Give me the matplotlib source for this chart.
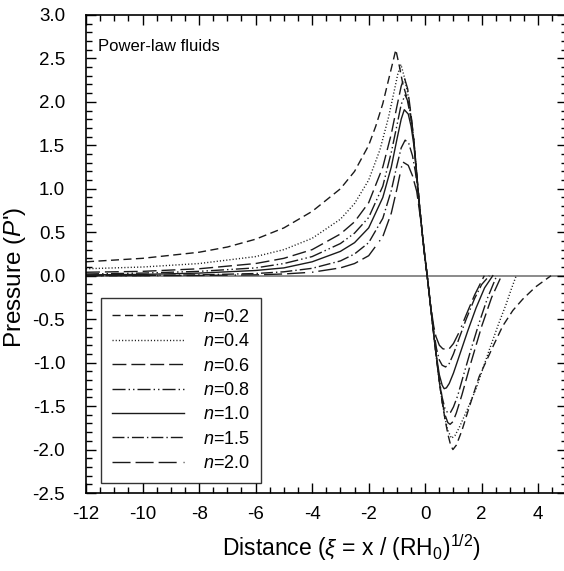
"""Pressure profiles P' for power-law fluids at several flow indices n"""

import matplotlib
matplotlib.use('Agg')
import matplotlib.pyplot as plt
from matplotlib.ticker import MultipleLocator

# curve data, one pair of lists per flow index
x_n02 = [-12, -10, -8, -7, -6, -5, -4, -3, -2.5, -2, -1.75, -1.5, -1.3, -1.15, -1.04, -0.92, -0.8, -0.65,
         -0.5, -0.4, -0.3, -0.2, -0.1, 0.0, 0.07, 0.2, 0.3, 0.4, 0.5, 0.6, 0.7, 0.8, 0.9, 0.98, 1.1, 1.3,
         1.56, 1.91, 2.39, 2.74, 3.1, 3.45, 3.9, 4.45]
y_n02 = [0.16, 0.20, 0.27, 0.33, 0.42, 0.55, 0.74, 1.0, 1.2, 1.5, 1.72, 1.98, 2.25, 2.45, 2.6, 2.42, 2.22, 2.05,
         1.8, 1.55, 1.17, 0.8, 0.47, 0.18, 0.0, -0.38, -0.67, -0.95, -1.22, -1.45, -1.65, -1.82, -1.95, -2.0,
         -1.95, -1.78, -1.51, -1.16, -0.82, -0.58, -0.4, -0.27, -0.13, 0.0]

x_n04 = [-12, -10, -8, -6, -5, -4, -3, -2.5, -2, -1.6, -1.3, -1.1, -0.97, -0.86, -0.75, -0.62, -0.5, -0.4,
         -0.3, -0.2, -0.1, 0.0, 0.07, 0.2, 0.3, 0.4, 0.5, 0.6, 0.7, 0.8, 0.93, 1.05, 1.2, 1.5, 1.8, 2.27,
         2.6, 2.86, 3.05, 3.22]
y_n04 = [0.08, 0.10, 0.14, 0.22, 0.30, 0.43, 0.65, 0.83, 1.1, 1.45, 1.82, 2.12, 2.32, 2.43, 2.3, 2.1, 1.82, 1.55,
         1.17, 0.8, 0.47, 0.18, 0.0, -0.38, -0.67, -0.95, -1.22, -1.45, -1.64, -1.78, -1.87, -1.84, -1.75,
         -1.53, -1.3, -0.85, -0.55, -0.33, -0.15, 0.0]

x_n06 = [-12, -10, -8, -6, -5, -4, -3, -2.5, -2, -1.5, -1.2, -1.0, -0.85, -0.74, -0.62, -0.5, -0.4, -0.3,
         -0.2, -0.1, 0.0, 0.07, 0.2, 0.3, 0.4, 0.5, 0.6, 0.7, 0.8, 0.88, 0.98, 1.1, 1.3, 1.6, 2.0, 2.35, 2.7]
y_n06 = [0.04, 0.05, 0.08, 0.14, 0.2, 0.3, 0.48, 0.62, 0.84, 1.25, 1.63, 1.95, 2.18, 2.28, 2.15, 1.85, 1.55, 1.17,
         0.8, 0.47, 0.18, 0.0, -0.38, -0.67, -0.95, -1.22, -1.45, -1.6, -1.69, -1.71, -1.68, -1.58, -1.37,
         -1.02, -0.58, -0.25, 0.0]

x_n08 = [-12, -10, -8, -6, -5, -4, -3, -2.5, -2, -1.5, -1.2, -1.0, -0.85, -0.71, -0.58, -0.48, -0.4, -0.3,
         -0.2, -0.1, 0.0, 0.07, 0.2, 0.3, 0.4, 0.5, 0.6, 0.7, 0.8, 0.9, 1.0, 1.15, 1.35, 1.6, 1.9, 2.2, 2.53]
y_n08 = [0.02, 0.03, 0.05, 0.09, 0.14, 0.22, 0.37, 0.49, 0.67, 1.03, 1.42, 1.73, 1.97, 2.08, 1.98, 1.78, 1.55, 1.17,
         0.8, 0.47, 0.18, 0.0, -0.38, -0.67, -0.95, -1.2, -1.4, -1.53, -1.58, -1.57, -1.51, -1.38, -1.15,
         -0.87, -0.55, -0.26, 0.0]

x_n10 = [-12, -10, -8, -6, -5, -4, -3, -2.5, -2, -1.5, -1.2, -1.0, -0.85, -0.74, -0.6, -0.5, -0.4, -0.3,
         -0.2, -0.1, 0.0, 0.07, 0.2, 0.3, 0.4, 0.5, 0.6, 0.67, 0.75, 0.85, 1.0, 1.25, 1.5, 1.8, 2.1, 2.39]
y_n10 = [0.01, 0.015, 0.03, 0.06, 0.09, 0.16, 0.28, 0.38, 0.55, 0.9, 1.25, 1.57, 1.8, 1.91, 1.86, 1.72, 1.5, 1.15,
         0.8, 0.47, 0.18, 0.0, -0.38, -0.67, -0.93, -1.14, -1.26, -1.3, -1.29, -1.24, -1.12, -0.88, -0.64,
         -0.37, -0.14, 0.0]

x_n15 = [-12, -10, -8, -6, -5, -4, -3, -2.5, -2, -1.5, -1.2, -1.0, -0.85, -0.71, -0.58, -0.45, -0.35, -0.25,
         -0.15, -0.05, 0.07, 0.2, 0.3, 0.4, 0.5, 0.6, 0.72, 0.85, 1.0, 1.2, 1.45, 1.75, 2.0, 2.27]
y_n15 = [0.0, 0.003, 0.01, 0.025, 0.045, 0.085, 0.17, 0.25, 0.38, 0.66, 0.98, 1.27, 1.47, 1.56, 1.52, 1.38, 1.2, 0.95,
         0.64, 0.32, 0.0, -0.37, -0.63, -0.84, -0.97, -1.03, -1.05, -1.01, -0.9, -0.72, -0.5, -0.26, -0.1, 0.0]

x_n20 = [-12, -10, -8, -6, -5, -4, -3, -2.5, -2, -1.5, -1.2, -1.0, -0.8, -0.6, -0.45, -0.3, -0.15, 0.0, 0.07,
         0.2, 0.3, 0.38, 0.5, 0.62, 0.75, 0.85, 1.0, 1.2, 1.45, 1.75, 2.09]
y_n20 = [0.0, 0.0, 0.003, 0.01, 0.02, 0.04, 0.09, 0.14, 0.23, 0.45, 0.72, 1.0, 1.31, 1.27, 1.15, 0.97, 0.62, 0.2, 0.0,
         -0.36, -0.58, -0.7, -0.8, -0.84, -0.85, -0.84, -0.78, -0.65, -0.45, -0.22, 0.0]

labels = ['$n$=0.2', '$n$=0.4', '$n$=0.6', '$n$=0.8', '$n$=1.0', '$n$=1.5', '$n$=2.0']

# dash patterns (in units of line width) mimicking the original line styles
dash_styles = [
    (5.8, 3.2),
    (0.8, 1.5),
    (10, 3.6),
    (9.4, 2.2, 1, 2.2, 1, 2.2),
    None,
    (8.6, 2.2, 1, 2.2),
    (13, 3.6, 13, 3.6, 13, 5, 1, 3.6),
]


def main():
    plt.rcParams['font.family'] = ['Liberation Sans', 'DejaVu Sans']
    plt.rcParams['mathtext.fontset'] = 'custom'
    plt.rcParams['mathtext.rm'] = 'Liberation Sans'
    plt.rcParams['mathtext.it'] = 'Liberation Sans:italic'
    plt.rcParams['axes.unicode_minus'] = False

    fig = plt.figure(figsize=(5.64, 5.71), dpi=100)
    ax = fig.add_axes([0.1525, 0.1366, 0.852, 0.8372])

    # zero reference line
    ax.axhline(0, color='#777777', lw=1.2, zorder=1)

    curves = [(x_n02, y_n02), (x_n04, y_n04), (x_n06, y_n06), (x_n08, y_n08),
              (x_n10, y_n10), (x_n15, y_n15), (x_n20, y_n20)]
    for (xs, ys), lab, dashes in zip(curves, labels, dash_styles):
        line, = ax.plot(xs, ys, color='#1a1a1a', lw=1.0, label=lab, zorder=2)
        if dashes is not None:
            line.set_dashes(dashes)

    ax.set_xlim(-12, 5)
    ax.set_ylim(-2.5, 3.0)
    ax.xaxis.set_major_locator(MultipleLocator(2))
    ax.xaxis.set_minor_locator(MultipleLocator(0.5))
    ax.yaxis.set_major_locator(MultipleLocator(0.5))
    ax.yaxis.set_minor_locator(MultipleLocator(0.1))
    ax.yaxis.set_major_formatter('{x:.1f}')
    ax.tick_params(which='both', direction='in', top=True, right=True, labelsize=13.5, width=1.0)
    ax.tick_params(which='major', length=7)
    ax.tick_params(which='minor', length=4)
    ax.tick_params(axis='x', which='major', pad=9)
    ax.tick_params(axis='y', which='major', pad=15)
    for spine in ax.spines.values():
        spine.set_linewidth(1.2)

    ax.set_xlabel(r'Distance ($\xi$ = x / (RH$_0$)$^{1/2}$)', fontsize=16.5)
    ax.xaxis.set_label_coords(0.553, -0.082)
    ax.set_ylabel("Pressure ($P$')", fontsize=17.5)
    ax.yaxis.set_label_coords(-0.12, 0.45)

    ax.text(0.024, 0.935, 'Power-law fluids', transform=ax.transAxes, fontsize=12, va='center', ha='left')

    leg = ax.legend(loc='lower left', bbox_to_anchor=(0.031, 0.021), borderaxespad=0, fontsize=13,
                    handlelength=4.0, handletextpad=1.05, labelspacing=0.41, frameon=True, fancybox=False,
                    borderpad=0.6)
    leg.get_frame().set_edgecolor('black')
    leg.get_frame().set_linewidth(1.0)

    fig.savefig('out.png', dpi=100)


if __name__ == '__main__':
    main()
